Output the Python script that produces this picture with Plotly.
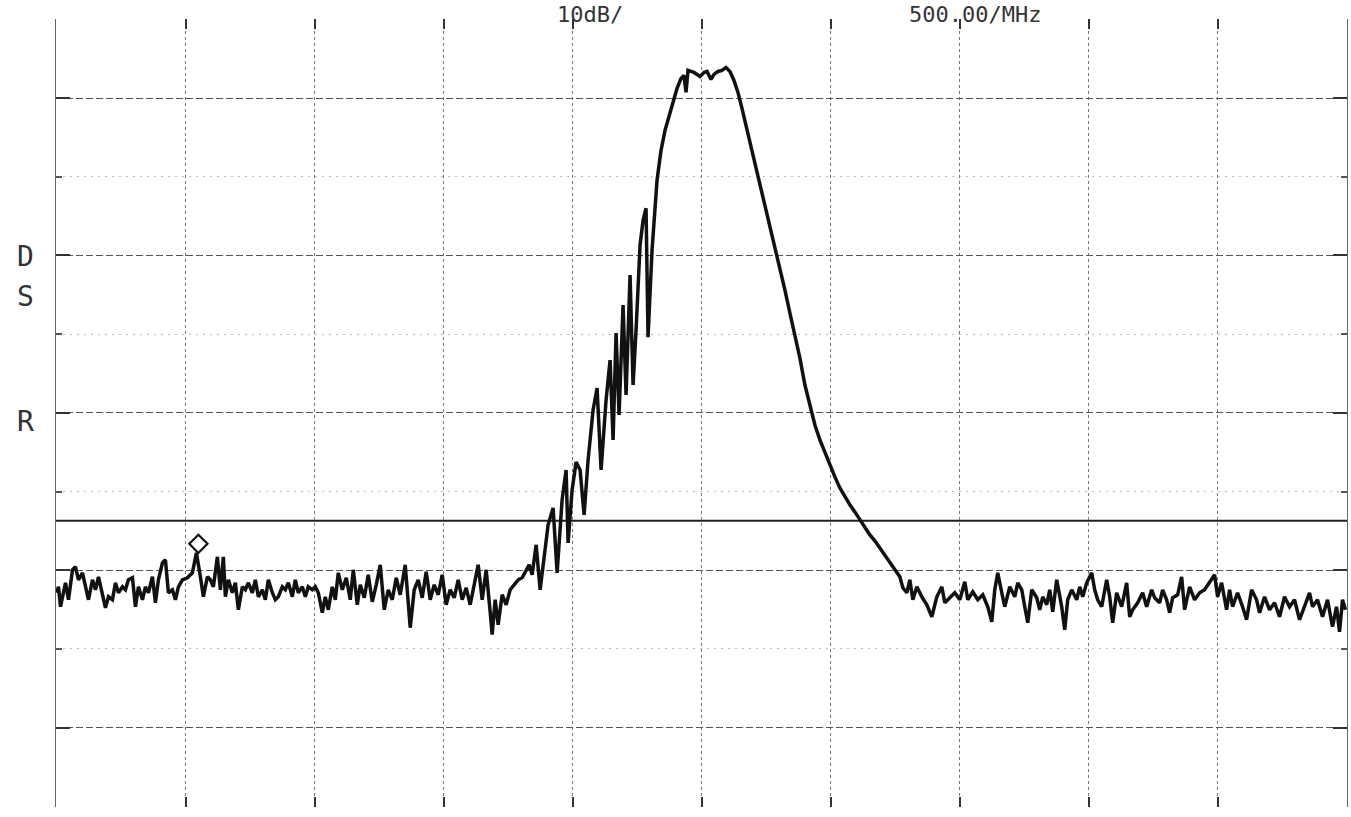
import plotly.graph_objects as go

# ---- trace data (x: sweep point, y: display level counts) ----
noise_left_x = [3, 5, 7, 12, 15, 19, 22, 25, 29, 32, 35, 39, 42, 45, 49, 52, 55, 59, 62, 65,
                69, 72, 75, 79, 82, 85, 89, 92, 95, 99, 102, 105, 109, 112, 115, 119, 122, 125, 129, 134,
                139, 143, 147, 150, 154, 157, 160, 164, 167, 170, 172, 175, 179, 182, 185, 189, 192, 195, 199, 202,
                205, 209, 212, 215, 219, 222, 225, 229, 232, 235, 239, 242, 245, 249, 252, 255, 259, 262, 265, 269,
                272, 275, 279, 282, 285, 289, 293, 297, 300, 304, 307, 311, 315, 319, 323, 327, 331, 335, 339, 343,
                347, 352, 357, 361, 365, 369, 373, 377, 381, 385, 389, 393, 397, 401, 405, 409, 413, 417, 421, 425,
                429, 433, 437, 439, 442, 445, 449, 453, 457, 461, 465, 469, 473, 476]
noise_left_y = [203, 209, 189, 213, 196, 226, 229, 216, 223, 209, 196, 216, 206, 219, 199, 188, 199, 196, 213, 203,
                209, 206, 216, 218, 189, 209, 196, 209, 203, 219, 193, 216, 233, 236, 203, 206, 196, 209, 216, 218,
                223, 243, 219, 199, 219, 216, 209, 239, 206, 239, 199, 216, 203, 213, 186, 209, 206, 213, 203, 216,
                199, 206, 196, 216, 203, 196, 199, 209, 206, 213, 199, 216, 203, 209, 199, 209, 206, 209, 203, 183,
                199, 186, 209, 196, 223, 206, 218, 196, 226, 191, 211, 198, 221, 194, 211, 231, 186, 206, 196, 218,
                201, 231, 168, 206, 216, 198, 224, 196, 211, 201, 221, 191, 206, 198, 216, 196, 208, 191, 211, 231,
                196, 226, 184, 161, 196, 171, 201, 191, 206, 211, 216, 218, 226, 231]

signal_x = [479, 483, 487, 491, 495, 500, 504, 509, 513, 515, 519, 523, 527, 531, 535, 540, 544, 548, 553, 557,
            560, 563, 566, 570, 573, 577, 580, 583, 587, 590, 593, 595, 599, 604, 608, 612, 616, 620, 624, 628,
            631, 633, 635, 641, 647, 651, 654, 658, 661, 665, 669, 673, 677, 681, 685, 689, 693, 697, 702, 707,
            712, 717, 722, 727, 732, 737, 742, 747, 752, 757, 762, 767, 772, 777, 782, 787, 792, 797, 802, 807,
            812, 817, 822, 827, 832, 837, 842, 847, 850, 854, 857]
signal_y = [221, 251, 206, 241, 271, 288, 223, 296, 326, 253, 306, 334, 326, 281, 336, 386, 408, 326, 396, 436,
            356, 463, 381, 491, 401, 521, 411, 466, 551, 576, 588, 459, 546, 616, 646, 666, 681, 696, 708, 718,
            721, 704, 726, 724, 720, 724, 725, 717, 722, 725, 726, 729, 725, 716, 704, 688, 671, 654, 634, 611,
            591, 571, 551, 528, 506, 483, 461, 438, 411, 391, 371, 356, 343, 331, 319, 308, 299, 291, 284, 276,
            268, 261, 255, 248, 240, 233, 226, 219, 208, 203, 216]

noise_right_x = [860, 864, 869, 874, 879, 884, 889, 892, 897, 902, 907, 912, 915, 920, 925, 930, 935, 939, 942, 945,
                 949, 952, 957, 962, 965, 969, 972, 975, 979, 984, 987, 990, 994, 997, 1000, 1004, 1009, 1012, 1015, 1019,
                 1024, 1027, 1030, 1034, 1039, 1042, 1045, 1049, 1054, 1057, 1060, 1064, 1069, 1074, 1077, 1080, 1085, 1090, 1094, 1099,
                 1102, 1107, 1110, 1114, 1117, 1120, 1125, 1129, 1132, 1137, 1142, 1147, 1152, 1157, 1162, 1165, 1169, 1174, 1177, 1180,
                 1185, 1190, 1194, 1199, 1204, 1207, 1212, 1217, 1222, 1227, 1232, 1237, 1242, 1247, 1252, 1257, 1260, 1265, 1270, 1275,
                 1280, 1284, 1287, 1290, 1293]
noise_right_y = [196, 209, 199, 191, 179, 199, 209, 193, 198, 203, 196, 214, 196, 204, 196, 201, 189, 174, 206, 223,
                 203, 189, 209, 199, 213, 206, 189, 173, 206, 198, 186, 199, 191, 206, 184, 216, 189, 166, 196, 206,
                 196, 209, 199, 213, 223, 206, 196, 189, 216, 199, 173, 203, 189, 213, 179, 186, 193, 203, 189, 206,
                 198, 193, 206, 196, 183, 198, 201, 219, 186, 209, 196, 203, 206, 213, 221, 199, 213, 186, 206, 189,
                 203, 189, 176, 206, 196, 183, 199, 186, 193, 179, 199, 189, 196, 176, 189, 203, 189, 196, 179, 196,
                 169, 189, 164, 196, 186]

marker_x = [145]
marker_y = [252]
display_line = 275

labels = ["D", "S", "R"]
label_levels = [540, 500, 374]
header_texts = ["10dB/", "500.00/MHz"]

sweep = noise_left_x + signal_x + noise_right_x
level = noise_left_y + signal_y + noise_right_y

fig = go.Figure()
fig.add_trace(go.Scatter(x=sweep, y=level, mode="lines",
                         line=dict(color="#111111", width=3.5), hoverinfo="skip", showlegend=False))
fig.add_trace(go.Scatter(x=marker_x, y=marker_y, mode="markers",
                         marker=dict(symbol="diamond-open", size=14, color="#111111", line=dict(width=2.2)),
                         hoverinfo="skip", showlegend=False))
fig.add_shape(type="line", xref="paper", x0=0, x1=1, yref="y", y0=display_line, y1=display_line,
              line=dict(color="#222222", width=2), layer="below")

for t, yv in zip(labels, label_levels):
    fig.add_annotation(text=t, xref="paper", x=-0.0235, yref="y", y=yv, showarrow=False,
                       xanchor="center", yanchor="middle",
                       font=dict(family="DejaVu Sans Mono", size=28, color="#333333"))

fig.add_annotation(text=header_texts[0], xref="paper", x=0.4136, yref="paper", y=1.0235,
                   xanchor="center", yanchor="top", showarrow=False,
                   font=dict(family="DejaVu Sans Mono", size=22, color="#333333"))
fig.add_annotation(text=header_texts[1], xref="paper", x=0.712, yref="paper", y=1.0235,
                   xanchor="center", yanchor="top", showarrow=False,
                   font=dict(family="DejaVu Sans Mono", size=22, color="#333333"))

fig.update_layout(
    width=1351, height=817,
    margin=dict(l=56, r=4, t=19, b=10),
    paper_bgcolor="white", plot_bgcolor="white",
    xaxis=dict(range=[2.5, 1294.5], tick0=3, dtick=129.1, showticklabels=False,
               showgrid=True, gridcolor="#777777", gridwidth=1, griddash="3px,3px",
               zeroline=False, showline=False,
               ticks="inside", ticklen=10, tickwidth=2, tickcolor="#333333", mirror="ticks"),
    yaxis=dict(range=[-11.5, 777.5], tick0=68, dtick=157.6, showticklabels=False,
               showgrid=True, gridcolor="#555555", gridwidth=1.3, griddash="7px,3px",
               zeroline=False, showline=True, linecolor="#666666", linewidth=1, mirror="ticks",
               ticks="inside", ticklen=14, tickwidth=2, tickcolor="#333333",
               minor=dict(tick0=68, dtick=78.8, showgrid=True, gridcolor="#bbbbbb",
                          griddash="2px,5px", gridwidth=1, ticks="inside", ticklen=6,
                          tickcolor="#555555")),
)

fig.write_html("out.html")
